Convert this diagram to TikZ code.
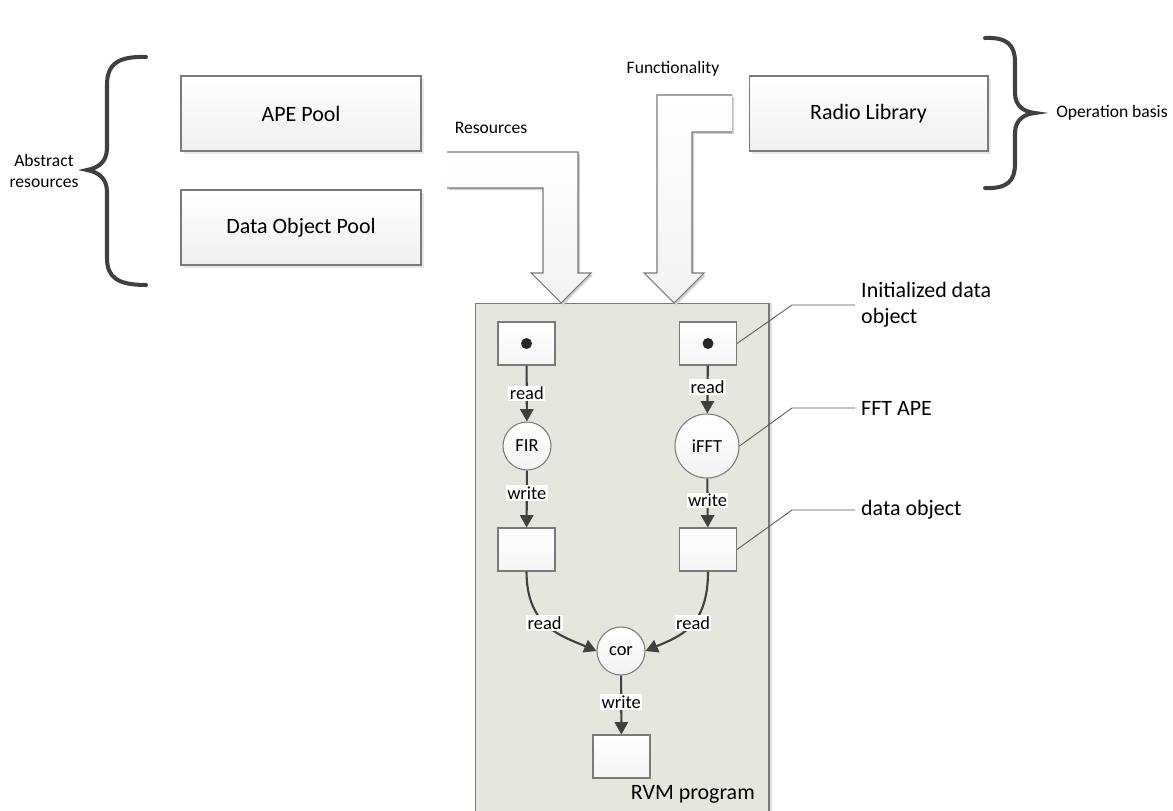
\documentclass[tikz,border=0pt]{standalone}
\usepackage{fontspec}
\setmainfont{Carlito}
\usetikzlibrary{arrows.meta,shadows,calc}

\definecolor{edgegray}{HTML}{7A7A7A}
\definecolor{inkgray}{HTML}{404040}
\definecolor{rvmfill}{HTML}{E6E6DE}

\tikzset{
  pool/.style={draw=edgegray, line width=0.6pt, top color=white, bottom color=gray!12,
    minimum width=4.8cm, minimum height=1.5cm, font=\fontsize{12.5}{14}\selectfont,
    drop shadow={shadow xshift=1.5pt, shadow yshift=-1.5pt, fill=gray!35}},
  dobj/.style={draw=edgegray, line width=0.6pt, top color=white, bottom color=gray!8,
    minimum width=1.14cm, minimum height=0.86cm, inner sep=0pt},
  ape/.style={circle, draw=edgegray, line width=0.6pt, top color=white, bottom color=gray!10,
    inner sep=0pt, font=\fontsize{10.5}{12}\selectfont},
  flow/.style={draw=inkgray, line width=1.2pt, -{Triangle[length=7pt,width=7.5pt]}},
  lbl/.style={fill=white, inner sep=0.8pt, font=\fontsize{10.5}{12}\selectfont},
  brace/.style={draw=inkgray, line width=2.3pt, line cap=round},
  callout/.style={draw=gray!70!black, line width=0.5pt},
  note/.style={font=\fontsize{10}{12}\selectfont, align=center},
  bignote/.style={font=\fontsize{12.5}{15}\selectfont, align=left},
  block/.style={draw=edgegray, line width=0.6pt},
  blockfill/.style={top color=white, bottom color=gray!10},
}

\begin{document}
\begin{tikzpicture}[x=0.02cm, y=-0.02cm]
  \useasboundingbox (0,0) rectangle (1173,811);

  % resource pools and library
  \node[pool] (apepool) at (301,113.5) {APE Pool};
  \node[pool] (dopool) at (301,227.5) {Data Object Pool};
  \node[pool, minimum width=4.78cm] (radiolib) at (868.5,113.5) {Radio Library};

  % braces
  \draw[brace] (146,57) .. controls (117,56) and (107,65) .. (107,85) -- (107,148)
    .. controls (107,162) and (98,168) .. (87,170)
    .. controls (98,172) and (107,178) .. (107,192) -- (107,258)
    .. controls (107,277) and (117,285) .. (146,285);
  \draw[brace] (985,38) .. controls (1007,37) and (1015,45) .. (1015,62) -- (1015,93)
    .. controls (1015,106) and (1024,112) .. (1035,113)
    .. controls (1024,114) and (1015,120) .. (1015,133) -- (1015,164)
    .. controls (1015,181) and (1007,189) .. (985,188);
  \node[note] (abstract) at (44,171) {Abstract\\resources};
  \node[note] (opbasis) at (1112,113) {Operation basis};

  % RVM program area
  \node[draw=edgegray, line width=0.6pt, fill=rvmfill, minimum width=5.88cm, minimum height=10.54cm,
    drop shadow={shadow xshift=1.5pt, shadow yshift=0pt, fill=gray!45}] (rvm) at (622,566.5) {};
  \node[font=\fontsize{12.5}{15}\selectfont, anchor=east] (rvmname) at (761,794) {RVM program};

  % bent block arrows
  \fill[gray!35] (449,154) -- (580,154) -- (580,275) -- (593,275) -- (563,305) -- (533,275)
    -- (545,275) -- (545,190) -- (449,190) -- cycle;
  \fill[blockfill] (447,152) -- (578,152) -- (578,273) -- (591,273) -- (561,303) -- (531,273)
    -- (543,273) -- (543,188) -- (447,188) -- cycle;
  \draw[block] (447,152) -- (578,152) -- (578,273) -- (591,273) -- (561,303) -- (531,273)
    -- (543,273) -- (543,188) -- (447,188);
  \node[note] (resources) at (491,128) {Resources};

  \fill[gray!35] (734,97) -- (659,97) -- (659,275) -- (646,275) -- (676,305) -- (706,275)
    -- (694,275) -- (694,134) -- (734,134) -- cycle;
  \fill[blockfill] (732,95) -- (657,95) -- (657,273) -- (644,273) -- (674,303) -- (704,273)
    -- (692,273) -- (692,132) -- (732,132) -- cycle;
  \draw[block] (732,95) -- (657,95) -- (657,273) -- (644,273) -- (674,303) -- (704,273)
    -- (692,273) -- (692,132) -- (732,132);
  \node[note] (functionality) at (673,69) {Functionality};

  % data objects and APEs
  \node[dobj] (in1) at (526.5,343.5) {};
  \node[dobj] (in2) at (708,343.5) {};
  \fill[black!85] (in1.center) circle (5.5);
  \fill[black!85] (in2.center) circle (5.5);
  \node[ape, minimum size=0.96cm] (fir) at (527,446) {FIR};
  \node[ape, minimum size=1.28cm] (ifft) at (707,446) {iFFT};
  \node[dobj] (out1) at (526.5,549.5) {};
  \node[dobj] (out2) at (708,549.5) {};
  \node[ape, minimum size=0.96cm] (cor) at (621,651) {cor};
  \node[dobj] (res) at (621.5,756.5) {};

  \draw[flow] (in1) -- node[lbl] {read} (fir);
  \draw[flow] (in2) -- node[lbl, pos=0.45] {read} (ifft);
  \draw[flow] (fir) -- node[lbl, pos=0.4] {write} (out1);
  \draw[flow] (ifft) -- node[lbl, pos=0.45] {write} (out2);
  \draw[flow] (out1.south) .. controls +(0,55) and +(-35,-15) .. node[lbl, pos=0.45] {read} (cor.west);
  \draw[flow] (out2.south) .. controls +(0,55) and +(35,-15) .. node[lbl, pos=0.45] {read} (cor.east);
  \draw[flow] (cor) -- node[lbl, pos=0.45] {write} (res);

  % callouts
  \node[bignote, anchor=west] (initnote) at (855,305) {Initialized data\\object};
  \node[bignote, anchor=west] (apenote) at (855,408) {FFT APE};
  \node[bignote, anchor=west] (donote) at (855,510) {data object};
  \draw[callout] (in2.east) -- (792,305) -- (initnote.west);
  \draw[callout] (ifft.east) -- (792,408) -- (apenote.west);
  \draw[callout] (out2.east) -- (792,510) -- (donote.west);
\end{tikzpicture}
\end{document}
